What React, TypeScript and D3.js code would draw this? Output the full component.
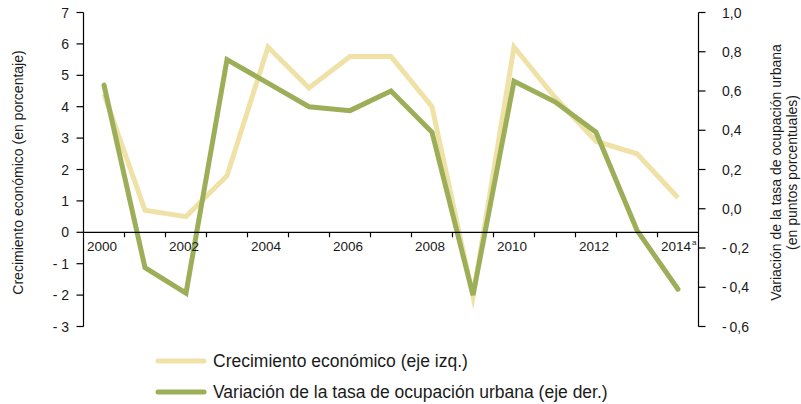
import React from "react";
import * as d3 from "d3";

const years = [2000, 2001, 2002, 2003, 2004, 2005, 2006, 2007, 2008, 2009, 2010, 2011, 2012, 2013, 2014];
const growth = [4.4, 0.7, 0.5, 1.8, 5.9, 4.6, 5.6, 5.6, 4.0, -2.05, 5.9, 4.3, 2.9, 2.5, 1.1];
const employment = [0.63, -0.30, -0.43, 0.76, 0.64, 0.52, 0.50, 0.60, 0.39, -0.44, 0.65, 0.545, 0.39, -0.11, -0.41];
const leftTicks = [-3, -2, -1, 0, 1, 2, 3, 4, 5, 6, 7];
const rightTicks = [-0.6, -0.4, -0.2, 0, 0.2, 0.4, 0.6, 0.8, 1.0];
const labelYears = [2000, 2002, 2004, 2006, 2008, 2010, 2012, 2014];
const seriesNames = ["Crecimiento económico (eje izq.)", "Variación de la tasa de ocupación urbana (eje der.)"];
const leftTitle = "Crecimiento económico (en porcentaje)";
const rightTitle = ["Variación de la tasa de ocupación urbana", "(en puntos porcentuales)"];

const YELLOW = "#f0e2a6";
const GREEN = "#9caf58";
const FONT = "'Liberation Sans', Arial, sans-serif";

export default function App() {
  const L = 83.5, R = 698.5, T = 12.5, B = 326.5;
  const x = d3.scaleBand<number>().domain(years).range([L, R]);
  const yL = d3.scaleLinear().domain([-3, 7]).range([B, T]);
  const yR = d3.scaleLinear().domain([-0.6, 1.0]).range([B, T]);
  const cx = (yr: number) => (x(yr) as number) + x.bandwidth() / 2;

  const lineL = d3.line<number>().x((_, i) => cx(years[i])).y((d) => yL(d));
  const lineR = d3.line<number>().x((_, i) => cx(years[i])).y((d) => yR(d));

  const y0 = yL(0);
  const fmtL = (n: number) => (n < 0 ? "- " + Math.abs(n) : String(n));
  const fmtR = (n: number) => {
    const s = Math.abs(n).toFixed(1).replace(".", ",");
    return n < -1e-9 ? "-\u2009" + s : s;
  };

  return (
    <svg width={801} height={404} style={{ position: "absolute", left: 0, top: 0, background: "#fff" }} fontFamily={FONT}>
      <rect x={0} y={0} width={801} height={404} fill="#fff" />
      {/* series */}
      <path d={lineL(growth) || ""} fill="none" stroke={YELLOW} strokeWidth={5} strokeLinejoin="miter" strokeMiterlimit={10} />
      <path d={lineR(employment) || ""} fill="none" stroke={GREEN} strokeWidth={5} strokeLinejoin="miter" strokeMiterlimit={4} strokeLinecap="round" />

      {/* left axis */}
      <line x1={L} x2={L} y1={T} y2={B} stroke="#000" strokeWidth={1.2} />
      {leftTicks.map((t) => (
        <g key={"l" + t}>
          <line x1={L - 7} x2={L} y1={yL(t)} y2={yL(t)} stroke="#000" strokeWidth={1.2} />
          <text x={69} y={yL(t) + 5} textAnchor="end" fontSize={14} fill="#1a1a1a">{fmtL(t)}</text>
        </g>
      ))}

      {/* right axis */}
      <line x1={R} x2={R} y1={T} y2={B} stroke="#000" strokeWidth={1.2} />
      {rightTicks.map((t) => (
        <g key={"r" + t}>
          <line x1={R} x2={R + 7} y1={yR(t)} y2={yR(t)} stroke="#000" strokeWidth={1.2} />
          <text x={722} y={yR(t) + 5} textAnchor="start" fontSize={14} fill="#1a1a1a">{fmtR(t)}</text>
        </g>
      ))}

      {/* x axis */}
      <line x1={L} x2={R} y1={y0} y2={y0} stroke="#000" strokeWidth={1.2} />
      {years.slice(1).map((yr) => (
        <line key={"xt" + yr} x1={x(yr) as number} x2={x(yr) as number} y1={y0} y2={y0 + 5} stroke="#000" strokeWidth={1.2} />
      ))}
      {labelYears.map((yr) => (
        <g key={"xl" + yr}>
          <text x={cx(yr) - 2} y={y0 + 19} textAnchor="middle" fontSize={13.5} fill="#1a1a1a">{yr}</text>
          {yr === 2014 && (
            <text x={cx(yr) + 14} y={y0 + 13} textAnchor="start" fontSize={8} fill="#1a1a1a">a</text>
          )}
        </g>
      ))}

      {/* axis titles */}
      <text transform={`translate(23,${(T + B) / 2 + 3}) rotate(-90)`} textAnchor="middle" fontSize={14} fill="#1a1a1a">{leftTitle}</text>
      <text transform={`translate(781,${(T + B) / 2 + 3}) rotate(-90)`} textAnchor="middle" fontSize={14} fill="#1a1a1a">{rightTitle[0]}</text>
      <text transform={`translate(797,${(T + B) / 2 + 3}) rotate(-90)`} textAnchor="middle" fontSize={14} fill="#1a1a1a">{rightTitle[1]}</text>

      {/* legend */}
      {seriesNames.map((name, i) => (
        <g key={"lg" + i}>
          <line x1={158} x2={204} y1={361 + i * 31} y2={361 + i * 31} stroke={i === 0 ? YELLOW : GREEN} strokeWidth={5} strokeLinecap="round" />
          <text x={213} y={367 + i * 31} fontSize={17.5} fill="#1a1a1a">{name}</text>
        </g>
      ))}
    </svg>
  );
}
